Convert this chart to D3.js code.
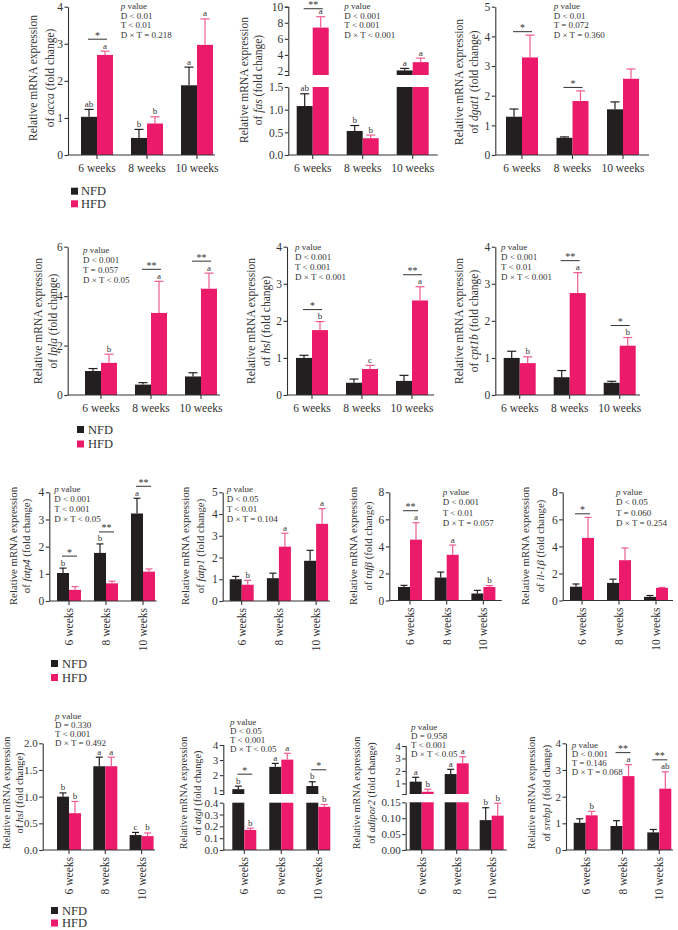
<!DOCTYPE html>
<html>
<head>
<meta charset="utf-8">
<script src="https://cdnjs.cloudflare.com/ajax/libs/d3/7.8.5/d3.min.js"></script>
<style>
  body { margin: 0; background: #fff; }
  svg { display: block; }
  text { font-family: "Liberation Serif", "Times New Roman", serif; fill: #333; }
</style>
</head>
<body>
<svg id="fig" width="678" height="930"></svg>
<script>
// categories
var groups = ["6 weeks", "8 weeks", "10 weeks"]
var diets = ["NFD", "HFD"]

// means and SEM (NFD, HFD) for each gene
var acca = { name: "acca", nfd: [1.03, 0.46, 1.88], nfdSem: [0.20, 0.23, 0.49], hfd: [2.70, 0.85, 2.97], hfdSem: [0.10, 0.18, 0.70],
  letters: [["ab", "a"], ["b", "b"], ["a", "a"]], stars: ["*", "", ""], p: ["D < 0.01", "T < 0.01", "D × T = 0.218"] }
var fas = { name: "fas", nfd: [1.08, 0.53, 2.07], nfdSem: [0.27, 0.12, 0.25], hfd: [7.40, 0.37, 3.10], hfdSem: [1.35, 0.07, 0.50],
  letters: [["ab", "a"], ["b", "b"], ["a", "a"]], stars: ["**", "", ""], p: ["D < 0.001", "T < 0.001", "D × T < 0.001"] }
var dgat1 = { name: "dgat1", nfd: [1.29, 0.58, 1.54], nfdSem: [0.26, 0.03, 0.25], hfd: [3.29, 1.82, 2.57], hfdSem: [0.75, 0.34, 0.33],
  letters: null, stars: ["*", "*", ""], p: ["D < 0.01", "T = 0.072", "D × T = 0.360"] }
var lpla = { name: "lpla", nfd: [0.97, 0.42, 0.75], nfdSem: [0.10, 0.08, 0.15], hfd: [1.30, 3.32, 4.30], hfdSem: [0.35, 1.28, 0.63],
  letters: [["", "b"], ["", "a"], ["", "a"]], stars: ["", "**", "**"], p: ["D < 0.001", "T = 0.057", "D × T < 0.05"] }
var hsl = { name: "hsl", nfd: [1.00, 0.33, 0.38], nfdSem: [0.07, 0.10, 0.15], hfd: [1.75, 0.70, 2.55], hfdSem: [0.23, 0.10, 0.37],
  letters: [["", "b"], ["", "c"], ["", "a"]], stars: ["*", "", "**"], p: ["D < 0.001", "T < 0.001", "D × T < 0.001"] }
var cpt1b = { name: "cpt1b", nfd: [1.00, 0.48, 0.33], nfdSem: [0.18, 0.18, 0.04], hfd: [0.86, 2.75, 1.33], hfdSem: [0.17, 0.55, 0.22],
  letters: [["", "b"], ["", "a"], ["", "b"]], stars: ["", "**", "*"], p: ["D < 0.001", "T < 0.01", "D × T < 0.001"] }
var fatp4 = { name: "fatp4", nfd: [1.03, 1.77, 3.22], nfdSem: [0.18, 0.33, 0.56], hfd: [0.41, 0.65, 1.08], hfdSem: [0.12, 0.08, 0.10],
  letters: [["b", ""], ["b", ""], ["a", ""]], stars: ["*", "**", "**"], p: ["D < 0.001", "T < 0.001", "D × T < 0.05"] }
var fatp1 = { name: "fatp1", nfd: [1.00, 1.05, 1.85], nfdSem: [0.13, 0.23, 0.48], hfd: [0.75, 2.50, 3.55], hfdSem: [0.20, 0.62, 0.70],
  letters: [["", "b"], ["", "a"], ["", "a"]], stars: null, p: ["D < 0.05", "T < 0.01", "D × T = 0.104"] }
var tnfb = { name: "tnfβ", nfd: [1.00, 1.70, 0.52], nfdSem: [0.12, 0.40, 0.23], hfd: [4.50, 3.38, 1.00], hfdSem: [1.25, 0.72, 0.10],
  letters: [["", "a"], ["", "a"], ["", "b"]], stars: ["**", "", ""], p: ["D < 0.001", "T < 0.01", "D × T = 0.057"] }
var il1b = { name: "il-1β", nfd: [1.02, 1.30, 0.27], nfdSem: [0.20, 0.28, 0.10], hfd: [4.63, 2.98, 0.93], hfdSem: [1.52, 0.90, 0.04],
  letters: null, stars: ["*", "", ""], p: ["D < 0.05", "T = 0.060", "D × T = 0.254"] }
var hsl2 = { name: "hsl", nfd: [1.00, 1.57, 0.28], nfdSem: [0.07, 0.17, 0.05], hfd: [0.69, 1.57, 0.26], hfdSem: [0.22, 0.17, 0.06],
  letters: [["b", "b"], ["a", "a"], ["c", "b"]], stars: null, p: ["D = 0.330", "T < 0.001", "D × T = 0.492"] }
var atgl = { name: "atgl", nfd: [1.07, 2.55, 1.28], nfdSem: [0.20, 0.23, 0.28], hfd: [0.170, 3.03, 0.365], hfdSem: [0.015, 0.42, 0.02],
  letters: [["b", "b"], ["a", "a"], ["b", "b"]], stars: ["*", "", "*"], p: ["D < 0.05", "T < 0.001", "D × T < 0.05"] }
var adipor2 = { name: "adipor2", nfd: [1.14, 1.75, 0.094], nfdSem: [0.35, 0.38, 0.039], hfd: [0.33, 2.61, 0.108], hfdSem: [0.20, 0.53, 0.039],
  letters: [["a", "b"], ["a", "a"], ["b", "b"]], stars: null, p: ["D = 0.958", "T < 0.001", "D × T < 0.05"] }
var srebp1 = { name: "srebp1", nfd: [1.02, 0.90, 0.66], nfdSem: [0.15, 0.20, 0.11], hfd: [1.30, 2.77, 2.30], hfdSem: [0.15, 0.43, 0.63],
  letters: [["", "b"], ["", "a"], ["", "ab"]], stars: ["", "**", "**"], p: ["D < 0.001", "T = 0.146", "D × T = 0.068"] }

var NFD_COL = "#231f20", HFD_COL = "#ec1a6a", HFD_ERR = "#ef5b90", AXIS = "#333", TXT = "#333"

// where each panel sits on the page
var panels = [
  { g: acca, x0: 68, x1: 215, c0: 97, step: 50, yB: 155, yT: 6.7, dom: [0, 4], ticks: [0, 1, 2, 3, 4], fmt: "d", lab: [33, 50, 78], pv: [120.7, 9, 9.6] },
  { g: fas, x0: 288.3, x1: 437.7, c0: 312.7, step: 50, yB: 155, yT: 6.7,
    broken: { low: [0, 1.5], lowTop: 87, up: [1.5, 10], upB: 75, lowTicks: [0, 0.5, 1, 1.5], lowFmt: ".1f", upTicks: [2, 4, 6, 8, 10], upFmt: "d" },
    lab: [244, 258, 80], pv: [344.3, 9, 9.6], sigGap: 8 },
  { g: dgat1, x0: 495.3, x1: 649, c0: 522, step: 50.5, yB: 155, yT: 6.7, dom: [0, 5], ticks: [0, 1, 2, 3, 4, 5], fmt: "d", lab: [459, 474, 82], pv: [553.7, 9, 9.6] },
  { g: lpla, x0: 67.7, x1: 220, c0: 101, step: 50, yB: 395, yT: 246.7, dom: [0, 6], ticks: [0, 2, 4, 6], fmt: "d", lab: [38, 53, 321], pv: [83, 253, 10] },
  { g: hsl, x0: 287, x1: 434, c0: 312, step: 50, yB: 395, yT: 246.7, dom: [0, 4], ticks: [0, 1, 2, 3, 4], fmt: "d", lab: [251, 266, 321], pv: [295, 250, 10] },
  { g: cpt1b, x0: 495.3, x1: 640, c0: 519.7, step: 50, yB: 395, yT: 246.7, dom: [0, 4], ticks: [0, 1, 2, 3, 4], fmt: "d", lab: [459, 474, 321], pv: [501, 250, 10] },
  { g: fatp4, x0: 49.3, x1: 156.7, c0: 69, step: 37, yB: 601, yT: 492.3, dom: [0, 4], ticks: [0, 1, 2, 3, 4], fmt: "d", lab: [13.3, 26.7, 546], pv: [54.3, 492, 10], rot: true },
  { g: fatp1, x0: 222.7, x1: 330, c0: 241.7, step: 37.2, yB: 601, yT: 492.3, dom: [0, 5], ticks: [0, 1, 2, 3, 4, 5], fmt: "d", lab: [185, 200, 546], pv: [226.7, 492, 10], rot: true },
  { g: tnfb, x0: 389.3, x1: 501.7, c0: 410, step: 36.7, yB: 600.5, yT: 492.3, dom: [0, 8], ticks: [0, 2, 4, 6, 8], fmt: "d", lab: [353, 368, 546], pv: [442.7, 495, 10.3], rot: true },
  { g: il1b, x0: 562.7, x1: 673, c0: 582, step: 37, yB: 600.5, yT: 492.3, dom: [0, 8], ticks: [0, 2, 4, 6, 8], fmt: "d", lab: [525, 540, 546], pv: [616, 495, 10.3], rot: true },
  { g: hsl2, x0: 42.7, x1: 155, c0: 69, step: 36.3, yB: 850, yT: 743.3, dom: [0, 2], ticks: [0, 0.5, 1, 1.5, 2], fmt: ".1f", lab: [6.5, 19.5, 793], pv: [55, 718.5, 9.1], rot: true, tfs: 11 },
  { g: atgl, x0: 223.3, x1: 330, c0: 244.3, step: 37, yB: 850, yT: 745,
    broken: { low: [0, 0.4], lowTop: 802.7, up: [0.75, 4], upB: 794, lowTicks: [0, 0.1, 0.2, 0.3, 0.4], lowFmt: ".1f", upTicks: [1, 2, 3, 4], upFmt: "d" },
    lab: [183.5, 197, 793], pv: [230, 725.3, 9], rot: true, tfs: 11 },
  { g: adipor2, x0: 405.7, x1: 506.7, c0: 421.7, step: 35, yB: 850, yT: 746,
    broken: { low: [0, 0.15], lowTop: 802.3, up: [0.15, 4], upB: 794, lowTicks: [0, 0.05, 0.1, 0.15], lowFmt: ".2f", upTicks: [1, 2, 3, 4], upFmt: "d" },
    lab: [356.7, 371.7, 793], pv: [411, 729.7, 9.1], rot: true, tfs: 11 },
  { g: srebp1, x0: 566, x1: 673, c0: 585.7, step: 36.8, yB: 850, yT: 743.3, dom: [0, 4], ticks: [0, 1, 2, 3, 4], fmt: "d", lab: [531.7, 546.7, 793], pv: [571.7, 748, 9], rot: true, tfs: 11 }
]

var legends = [
  { x: 71, y: [187.7, 200.3], tx: 81 },
  { x: 77, y: [426, 440.5], tx: 88 },
  { x: 51, y: [660, 674], tx: 62 },
  { x: 51, y: [907, 919.5], tx: 62 }
]

var svg = d3.select("#fig")

function styleAxis(sel, fs) {
  sel.selectAll("path, line").attr("stroke", AXIS).attr("stroke-width", 1.1)
  sel.selectAll("text").style("font-size", fs + "px").attr("fill", TXT)
    .style("font-family", '"Liberation Serif", "Times New Roman", serif')
}

function drawPanel(L) {
  var gene = L.g
  var wide = !L.rot
  var barW = wide ? 16 : 12
  var capW = wide ? 9 : 7
  var tfs = L.tfs || 11.5
  var g = svg.append("g")

  // y scales, maybe broken in two
  var yLow, yUp, split = Infinity
  if (L.broken) {
    var b = L.broken
    yLow = d3.scaleLinear().domain(b.low).range([L.yB, b.lowTop])
    yUp = d3.scaleLinear().domain(b.up).range([b.upB, L.yT])
    split = b.low[1]
  } else {
    yLow = d3.scaleLinear().domain(L.dom).range([L.yB, L.yT])
  }
  var pos = function(v) { return v <= split ? yLow(v) : yUp(v) }

  var x = d3.scaleBand().domain(groups)
    .range([L.c0 - L.step / 2, L.c0 + L.step * 2.5]).padding(0)
  var cx = function(grp) { return x(grp) + x.bandwidth() / 2 }

  var rows = []
  groups.forEach(function(grp, i) {
    diets.forEach(function(dt, j) {
      var m = j == 0 ? gene.nfd[i] : gene.hfd[i]
      var s = j == 0 ? gene.nfdSem[i] : gene.hfdSem[i]
      rows.push({ grp: grp, diet: dt, i: i, j: j, mean: m, sem: s,
        letter: gene.letters ? gene.letters[i][j] : "",
        bx: j == 0 ? cx(grp) - barW : cx(grp) })
    })
  })

  // bar pieces (split bars get two rects)
  var pieces = []
  rows.forEach(function(d) {
    if (d.mean <= split) {
      pieces.push({ d: d, y: pos(d.mean), h: L.yB - pos(d.mean) })
    } else {
      pieces.push({ d: d, y: L.broken.lowTop, h: L.yB - L.broken.lowTop })
      pieces.push({ d: d, y: yUp(d.mean), h: L.broken.upB - yUp(d.mean) })
    }
  })

  g.selectAll(".bar").data(pieces).enter().append("rect")
    .attr("class", "bar")
    .attr("x", function(p) { return p.d.bx })
    .attr("y", function(p) { return p.y })
    .attr("width", barW)
    .attr("height", function(p) { return p.h })
    .attr("fill", function(p) { return p.d.j == 0 ? NFD_COL : HFD_COL })

  // error bars, upward only
  var eb = g.selectAll(".err").data(rows).enter().append("g").attr("class", "err")
    .attr("stroke", function(d) { return d.j == 0 ? NFD_COL : HFD_ERR })
    .attr("stroke-width", 1.2)
  eb.append("line")
    .attr("x1", function(d) { return d.bx + barW / 2 })
    .attr("x2", function(d) { return d.bx + barW / 2 })
    .attr("y1", function(d) { return pos(d.mean) })
    .attr("y2", function(d) { return pos(d.mean + d.sem) })
  eb.append("line")
    .attr("x1", function(d) { return d.bx + barW / 2 - capW / 2 })
    .attr("x2", function(d) { return d.bx + barW / 2 + capW / 2 })
    .attr("y1", function(d) { return pos(d.mean + d.sem) })
    .attr("y2", function(d) { return pos(d.mean + d.sem) })

  // group letters
  g.selectAll(".letter").data(rows.filter(function(d) { return d.letter })).enter().append("text")
    .attr("class", "letter")
    .attr("x", function(d) { return d.bx + barW / 2 })
    .attr("y", function(d) { return pos(d.mean + d.sem) - 2.5 })
    .attr("text-anchor", "middle")
    .attr("fill", "#444")
    .style("font-size", "9px")
    .text(function(d) { return d.letter })

  // significance marks between diets
  if (gene.stars) {
    groups.forEach(function(grp, i) {
      var st = gene.stars[i]
      if (!st) return
      var top = Math.min(pos(gene.nfd[i] + gene.nfdSem[i]), pos(gene.hfd[i] + gene.hfdSem[i]))
      var hasLetter = gene.letters && (gene.letters[i][0] || gene.letters[i][1])
      var ly = top - (hasLetter ? (L.sigGap || 12) : 3.5)
      var xa = cx(grp) - barW / 2 - 1, xb = cx(grp) + barW / 2 + 2
      g.append("line").attr("x1", xa).attr("x2", xb).attr("y1", ly).attr("y2", ly)
        .attr("stroke", "#333").attr("stroke-width", 1)
      g.append("text").attr("x", (xa + xb) / 2).attr("y", ly - 0.5)
        .attr("text-anchor", "middle").attr("fill", "#444").style("font-size", "10px").text(st)
    })
  }

  // y axis (one or two pieces)
  if (L.broken) {
    var b2 = L.broken
    var axL = g.append("g").attr("transform", "translate(" + L.x0 + ",0)")
      .call(d3.axisLeft(yLow).tickValues(b2.lowTicks).tickFormat(d3.format(b2.lowFmt)).tickSize(3.5).tickPadding(1.5).tickSizeOuter(0))
    var axU = g.append("g").attr("transform", "translate(" + L.x0 + ",0)")
      .call(d3.axisLeft(yUp).tickValues(b2.upTicks).tickFormat(d3.format(b2.upFmt)).tickSize(3.5).tickPadding(1.5).tickSizeOuter(3.5))
    styleAxis(axL, tfs)
    styleAxis(axU, tfs)
  } else {
    var ay = g.append("g").attr("transform", "translate(" + L.x0 + ",0)")
      .call(d3.axisLeft(yLow).tickValues(L.ticks).tickFormat(d3.format(L.fmt)).tickSize(3.5).tickPadding(1.5).tickSizeOuter(0))
    styleAxis(ay, tfs)
  }

  // x axis
  var axX = g.append("g").attr("transform", "translate(0," + L.yB + ")")
    .call(d3.axisBottom(x).tickSize(4))
  axX.select(".domain").remove()
  g.append("line").attr("x1", L.x0).attr("x2", L.x1).attr("y1", L.yB).attr("y2", L.yB)
    .attr("stroke", AXIS).attr("stroke-width", 1.1)
  styleAxis(axX, 11.5)
  if (L.rot) {
    axX.selectAll("text")
      .attr("transform", "rotate(-90)")
      .attr("x", -7).attr("y", 0).attr("dy", "0.35em")
      .style("text-anchor", "end")
  } else {
    axX.selectAll("text").attr("y", 9)
  }

  // y title, two lines
  var lfs = L.rot ? (L.yB > 800 ? 10.3 : 10.8) : 11.5
  g.append("text")
    .attr("transform", "translate(" + L.lab[0] + "," + L.lab[2] + ") rotate(-90)")
    .attr("text-anchor", "middle").attr("dy", "0.35em").style("font-size", lfs + "px")
    .text("Relative mRNA expression")
  var t2 = g.append("text")
    .attr("transform", "translate(" + L.lab[1] + "," + L.lab[2] + ") rotate(-90)")
    .attr("text-anchor", "middle").attr("dy", "0.35em").style("font-size", lfs + "px")
  t2.append("tspan").text("of ")
  t2.append("tspan").style("font-style", "italic").text(gene.name)
  t2.append("tspan").text(" (fold change)")

  // p value block
  var pv = g.append("g").style("font-size", "9px")
  var first = pv.append("text").attr("x", L.pv[0]).attr("y", L.pv[1])
  first.append("tspan").style("font-style", "italic").text("p")
  first.append("tspan").text(" value")
  gene.p.forEach(function(s, k) {
    pv.append("text").attr("x", L.pv[0]).attr("y", L.pv[1] + L.pv[2] * (k + 1)).text(s)
  })
}

panels.forEach(drawPanel)

// legends
legends.forEach(function(lg) {
  var lgG = svg.append("g")
  lgG.selectAll("rect").data(diets).enter().append("rect")
    .attr("x", lg.x).attr("y", function(d, i) { return lg.y[i] })
    .attr("width", 7).attr("height", 7)
    .attr("fill", function(d) { return d == "NFD" ? NFD_COL : HFD_COL })
  lgG.selectAll("text").data(diets).enter().append("text")
    .attr("x", lg.tx).attr("y", function(d, i) { return lg.y[i] + 7.5 })
    .style("font-size", "12.5px")
    .text(function(d) { return d })
})
</script>
</body>
</html>
